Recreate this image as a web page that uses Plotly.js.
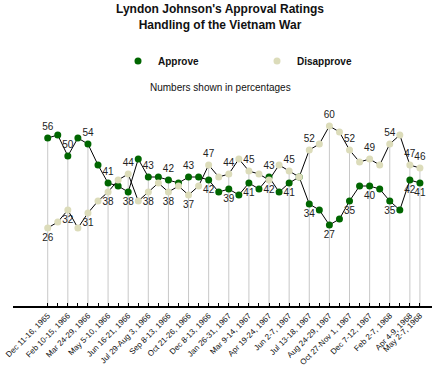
<!DOCTYPE html>
<html>
<head>
<meta charset="utf-8">
<script src="https://cdn.plot.ly/plotly-3.0.1.min.js"></script>
<style>html,body{margin:0;padding:0;background:#fff;}#chart{width:440px;height:375px;}</style>
</head>
<body>
<div id="chart"></div>
<script>
// Poll dates (only every second poll is labelled on the axis; '' = unlabelled poll)
var tickLabels = [
  'Dec 11-16, 1965', '', 'Feb 10-15, 1966', '', 'Mar 24-29, 1966', '', 'May 5-10, 1966', '',
  'Jun 16-21, 1966', '', 'Jul 29-Aug 3, 1966', '', 'Sep 8-13, 1966', '', 'Oct 21-26, 1966', '',
  'Dec 8-13, 1966', '', 'Jan 26-31, 1967', '', 'Mar 9-14, 1967', '', 'Apr 19-24, 1967', '',
  'Jun 2-7, 1967', '', 'Jul 13-18, 1967', '', 'Aug 24-29, 1967', '', 'Oct 27-Nov 1, 1967', '',
  'Dec 7-12, 1967', '', 'Feb 2-7, 1968', '', 'Apr 4-9, 1968', 'May 2-7, 1968'
];
var approve = [56,57,50,56,54,47,41,40,38,49,43,43,42,41,43,43,42,38,39,37,41,39,43,38,41,43,34,32,27,29,35,40,40,39,35,32,42,41];
var disapprove = [26,28,32,26,31,35,38,42,44,35,38,41,38,40,37,40,47,43,44,49,45,44,42,47,45,43,52,54,60,58,52,48,49,47,54,57,47,46];

var FONT = 'Arial, "Liberation Sans", sans-serif';
var GREEN = '#006600', BEIGE = '#dcdcba';

var xs = approve.map(function(_, i){ return i; });
var labelled = tickLabels.map(function(t){ return t !== ''; });

// grey drop lines from the higher value to the axis at labelled polls
var dropX = [], dropY = [];
xs.forEach(function(i){
  if (labelled[i]) {
    dropX.push(i, i, null);
    dropY.push(0, Math.max(approve[i], disapprove[i]), null);
  }
});

function textFor(arr){ return arr.map(function(v, i){ return labelled[i] ? String(v) : ''; }); }
function posFor(a, b){ return a.map(function(v, i){ return v >= b[i] ? 'top center' : 'bottom center'; }); }

var traces = [
  {x: dropX, y: dropY, mode: 'lines', line: {color: '#c8c8c8', width: 1}, hoverinfo: 'skip', showlegend: false},
  {x: xs, y: approve, mode: 'lines', line: {color: '#000', width: 1}, showlegend: false, hoverinfo: 'skip'},
  {x: xs, y: disapprove, mode: 'lines', line: {color: '#000', width: 1}, showlegend: false, hoverinfo: 'skip'},
  {x: xs, y: approve, name: 'Approve', mode: 'markers+text', marker: {color: GREEN, size: 7},
   text: textFor(approve), textposition: posFor(approve, disapprove), textfont: {family: FONT, size: 10, color: '#222'}, cliponaxis: false},
  {x: xs, y: disapprove, name: 'Disapprove', mode: 'markers+text', marker: {color: BEIGE, size: 7},
   text: textFor(disapprove), textposition: posFor(disapprove, approve), textfont: {family: FONT, size: 10, color: '#222'}, cliponaxis: false}
];

var layout = {
  width: 440, height: 375,
  margin: {l: 13, r: 8, t: 96, b: 69},
  paper_bgcolor: '#fff', plot_bgcolor: '#fff',
  font: {family: FONT, color: '#000'},
  title: {text: "Lyndon Johnson's Approval Ratings<br>Handling of the Vietnam War",
          font: {family: FONT, size: 12, weight: 'bold', color: '#111'},
          x: 0.5, xref: 'container', xanchor: 'center', y: 1 - 13/375, yref: 'container', yanchor: 'top'},
  showlegend: true,
  legend: {orientation: 'h', xref: 'container', yref: 'container', x: 118/440, xanchor: 'left',
           y: 1 - 61/375, yanchor: 'middle', entrywidth: 94, entrywidthmode: 'pixels',
           font: {family: FONT, size: 10, weight: 'bold', color: '#111'}, bgcolor: 'rgba(0,0,0,0)'},
  xaxis: {range: [-3.45, 38.2], tickmode: 'array', tickvals: xs, ticktext: tickLabels,
          tickangle: -45, ticks: 'inside', ticklen: 3, tickwidth: 1, tickcolor: '#000',
          showline: true, linewidth: 2, linecolor: '#000', showgrid: false, zeroline: false,
          tickfont: {family: FONT, size: 8, color: '#111'}, fixedrange: true},
  yaxis: {range: [0, 70], visible: false, showgrid: false, zeroline: false, fixedrange: true},
  annotations: [{text: 'Numbers shown in percentages', xref: 'paper', yref: 'paper',
                 x: (220 - 13) / 419, y: (306 - 88) / 210, xanchor: 'center', yanchor: 'middle', showarrow: false,
                 font: {family: FONT, size: 10, color: '#111'}}]
};

Plotly.newPlot('chart', traces, layout, {displayModeBar: false, staticPlot: true});
</script>
</body>
</html>
